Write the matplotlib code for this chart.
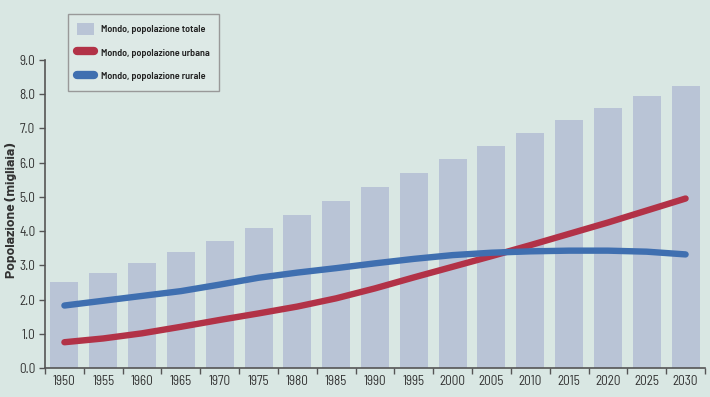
import matplotlib
matplotlib.use("Agg")
import matplotlib.pyplot as plt
import numpy as np
from matplotlib.patches import Patch
from matplotlib.lines import Line2D

years = ["1950", "1955", "1960", "1965", "1970", "1975", "1980", "1985", "1990",
         "1995", "2000", "2005", "2010", "2015", "2020", "2025", "2030"]
totale = [2.51, 2.77, 3.06, 3.38, 3.70, 4.08, 4.46, 4.87, 5.28,
          5.70, 6.10, 6.48, 6.85, 7.23, 7.59, 7.93, 8.22]
urbana = [0.76, 0.87, 1.02, 1.21, 1.41, 1.60, 1.80, 2.04, 2.33,
          2.65, 2.96, 3.27, 3.59, 3.92, 4.25, 4.60, 4.95]
rurale = [1.83, 1.97, 2.11, 2.25, 2.44, 2.64, 2.79, 2.92, 3.06,
          3.19, 3.30, 3.37, 3.41, 3.43, 3.43, 3.40, 3.32]
yticks = [0, 1, 2, 3, 4, 5, 6, 7, 8, 9]

BG = "#d9e7e3"
BAR = "#b9c4d6"
RED = "#b23247"
BLUE = "#3f6fb0"
AX = "#555555"
COND = ["Barlow Semi Condensed", "DejaVu Sans"]
REG = ["Barlow", "Open Sans", "DejaVu Sans"]

W, H = 710, 397
fig = plt.figure(figsize=(W / 100, H / 100), dpi=100, facecolor=BG)
ax = fig.add_axes([45 / W, 1 - 368.3 / H, (705 - 45) / W, (368.3 - 59.6) / H])
ax.set_facecolor(BG)

x = np.arange(len(years))
ax.bar(x, totale, width=0.72, color=BAR, zorder=1)
ax.plot(x, urbana, color=RED, lw=4.6, solid_capstyle="round", zorder=3)
ax.plot(x, rurale, color=BLUE, lw=4.6, solid_capstyle="round", zorder=3)

ax.set_xlim(-0.5, len(years) - 0.5)
ax.set_ylim(0, 9)
ax.set_yticks(yticks)
ax.set_yticklabels([f"{v:.1f}" for v in yticks])
ax.set_xticks(x)
ax.set_xticklabels(years)
ax.set_xticks(np.arange(-0.5, len(years), 1.0), minor=True)
ax.tick_params(axis="x", which="major", length=0, pad=5)
ax.tick_params(axis="x", which="minor", length=4, color=AX, width=1)
ax.tick_params(axis="y", length=4, color=AX, width=1, pad=3)
for lab in ax.get_xticklabels() + ax.get_yticklabels():
    lab.set_fontfamily(COND)
    lab.set_fontsize(9.5)
    lab.set_color("#333333")

for s in ["top", "right"]:
    ax.spines[s].set_visible(False)
for s in ["left", "bottom"]:
    ax.spines[s].set_color(AX)
    ax.spines[s].set_linewidth(1.2)

ax.set_ylabel("Popolazione (migliaia)", fontfamily=REG, fontweight="bold",
              fontsize=10, color="#333333")
ax.yaxis.set_label_coords((17 - 45) / 660, (368.3 - 210) / 308.7)

handles = [
    Patch(facecolor=BAR, edgecolor="none"),
    Line2D([0], [0], color=RED, lw=6, solid_capstyle="round"),
    Line2D([0], [0], color=BLUE, lw=6, solid_capstyle="round"),
]
labels = ["Mondo, popolazione totale", "Mondo, popolazione urbana", "Mondo, popolazione rurale"]
leg = fig.legend(handles, labels, loc="upper left",
                 bbox_to_anchor=(68 / W, 1 - 13.7 / H),
                 prop={"family": COND, "weight": "semibold", "size": 7.3},
                 frameon=True, fancybox=False, facecolor="#dde9e6", edgecolor="#999999",
                 handlelength=1.7, handleheight=1.5, labelspacing=1.1,
                 borderpad=0.9, handletextpad=0.7, borderaxespad=0)
leg.get_frame().set_linewidth(1.0)
leg.get_frame().set_alpha(1)
for t in leg.get_texts():
    t.set_color("#222222")

fig.savefig("out.png", dpi=100, facecolor=BG)
